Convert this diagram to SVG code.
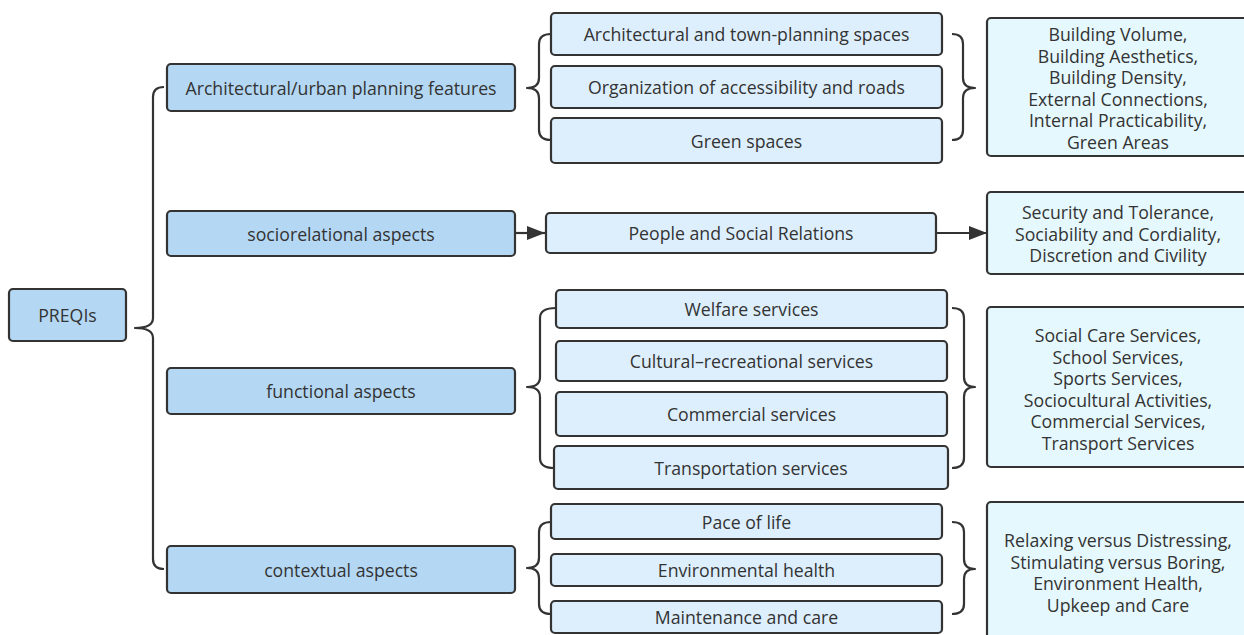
<svg xmlns="http://www.w3.org/2000/svg" width="1244" height="635" viewBox="0 0 1244 635">
<defs>
<style>
.l1{fill:#b4d8f3;stroke:#333;stroke-width:2.2}
.sub{fill:#ddeffd;stroke:#333;stroke-width:2.2}
.res{fill:#e5f8fd;stroke:#333;stroke-width:2.2}
text{font-family:"Open Sans","Noto Sans","DejaVu Sans",sans-serif;font-size:17.7px;fill:#333;text-anchor:middle;dominant-baseline:central}
.con{fill:none;stroke:#333;stroke-width:2.2;stroke-linejoin:round}
</style>
<marker id="arr" viewBox="0 0 18 14" refX="18" refY="7" markerWidth="18" markerHeight="14" markerUnits="userSpaceOnUse" orient="auto">
<path d="M0,0 L18,7 L0,14 Z" fill="#333"/>
</marker>
</defs>
<rect width="1244" height="635" fill="#fff"/>
<g id="connectors">
<path class="con" d="M164,87 Q153,87 153,97 L153,318 Q153,328 135,328 Q153,328 153,338 L153,559 Q153,569 164,569"/>
<path class="con" d="M551,34 Q539,34 539,44 L539,78 Q539,88 527,88 Q539,88 539,98 L539,130 Q539,140 551,140"/>
<path class="con" d="M952,34 Q963,34 963,44 L963,78 Q963,88 975,88 Q963,88 963,98 L963,130 Q963,140 952,140"/>
<path class="con" d="M556,308 Q540,308 540,318 L540,377 Q540,387 527,387 Q540,387 540,397 L540,458 Q540,468 554,468"/>
<path class="con" d="M952,308 Q964,308 964,318 L964,377 Q964,387 975,387 Q964,387 964,397 L964,458 Q964,468 952,468"/>
<path class="con" d="M551,522 Q539,522 539,532 L539,558 Q539,568 527,568 Q539,568 539,578 L539,604 Q539,614 551,614"/>
<path class="con" d="M952,522 Q964,522 964,532 L964,559 Q964,569 975,569 Q964,569 964,579 L964,604 Q964,614 952,614"/>
<line class="con" x1="516" y1="233" x2="545" y2="233" marker-end="url(#arr)"/>
<line class="con" x1="937" y1="233" x2="987" y2="233" marker-end="url(#arr)"/>
</g>
<g id="n-preqis"><rect class="l1" x="9" y="289" width="117" height="52" rx="4"/><text x="67.5" y="315">PREQIs</text></g>
<g id="n-arch"><rect class="l1" x="167" y="64" width="348" height="47" rx="4"/><text x="341" y="87.5">Architectural/urban planning features</text></g>
<g id="n-socio"><rect class="l1" x="167" y="211" width="348" height="45" rx="4"/><text x="341" y="233.5">sociorelational aspects</text></g>
<g id="n-func"><rect class="l1" x="167" y="368" width="348" height="46" rx="4"/><text x="341" y="391">functional aspects</text></g>
<g id="n-ctx"><rect class="l1" x="167" y="546" width="348" height="47" rx="4"/><text x="341" y="569.5">contextual aspects</text></g>
<g id="n-atp"><rect class="sub" x="551" y="13" width="391" height="42" rx="4"/><text x="746.5" y="34">Architectural and town-planning spaces</text></g>
<g id="n-org"><rect class="sub" x="551" y="66" width="391" height="42" rx="4"/><text x="746.5" y="87">Organization of accessibility and roads</text></g>
<g id="n-green"><rect class="sub" x="551" y="118" width="391" height="45" rx="4"/><text x="746.5" y="141">Green spaces</text></g>
<g id="n-people"><rect class="sub" x="546" y="213" width="390" height="40" rx="4"/><text x="741" y="233">People and Social Relations</text></g>
<g id="n-welfare"><rect class="sub" x="556" y="290" width="391" height="38" rx="4"/><text x="751.5" y="309">Welfare services</text></g>
<g id="n-cult"><rect class="sub" x="556" y="341" width="391" height="40" rx="4"/><text x="751.5" y="361">Cultural–recreational services</text></g>
<g id="n-comm"><rect class="sub" x="556" y="392" width="391" height="44" rx="4"/><text x="751.5" y="414">Commercial services</text></g>
<g id="n-trans"><rect class="sub" x="554" y="446" width="394" height="43" rx="4"/><text x="751" y="468">Transportation services</text></g>
<g id="n-pace"><rect class="sub" x="551" y="504" width="391" height="35" rx="4"/><text x="746.5" y="521.5">Pace of life</text></g>
<g id="n-env"><rect class="sub" x="551" y="554" width="391" height="32" rx="4"/><text x="746.5" y="570">Environmental health</text></g>
<g id="n-maint"><rect class="sub" x="551" y="601" width="391" height="32" rx="4"/><text x="746.5" y="617">Maintenance and care</text></g>
<g id="n-r1"><rect class="res" x="987" y="18" width="262" height="138" rx="4"/>
<text x="1118" y="34">Building Volume,</text><text x="1118" y="55.6">Building Aesthetics,</text><text x="1118" y="77.2">Building Density,</text><text x="1118" y="98.8">External Connections,</text><text x="1118" y="120.4">Internal Practicability,</text><text x="1118" y="142">Green Areas</text></g>
<g id="n-r2"><rect class="res" x="987" y="192" width="262" height="82" rx="4"/>
<text x="1118" y="211.9">Security and Tolerance,</text><text x="1118" y="233.5">Sociability and Cordiality,</text><text x="1118" y="255.1">Discretion and Civility</text></g>
<g id="n-r3"><rect class="res" x="987" y="307" width="262" height="160" rx="4"/>
<text x="1118" y="335">Social Care Services,</text><text x="1118" y="356.6">School Services,</text><text x="1118" y="378.2">Sports Services,</text><text x="1118" y="399.8">Sociocultural Activities,</text><text x="1118" y="421.4">Commercial Services,</text><text x="1118" y="443">Transport Services</text></g>
<g id="n-r4"><rect class="res" x="987" y="502" width="262" height="140" rx="4"/>
<text x="1118" y="540.1">Relaxing versus Distressing,</text><text x="1118" y="561.7">Stimulating versus Boring,</text><text x="1118" y="583.3">Environment Health,</text><text x="1118" y="604.9">Upkeep and Care</text></g>
</svg>
